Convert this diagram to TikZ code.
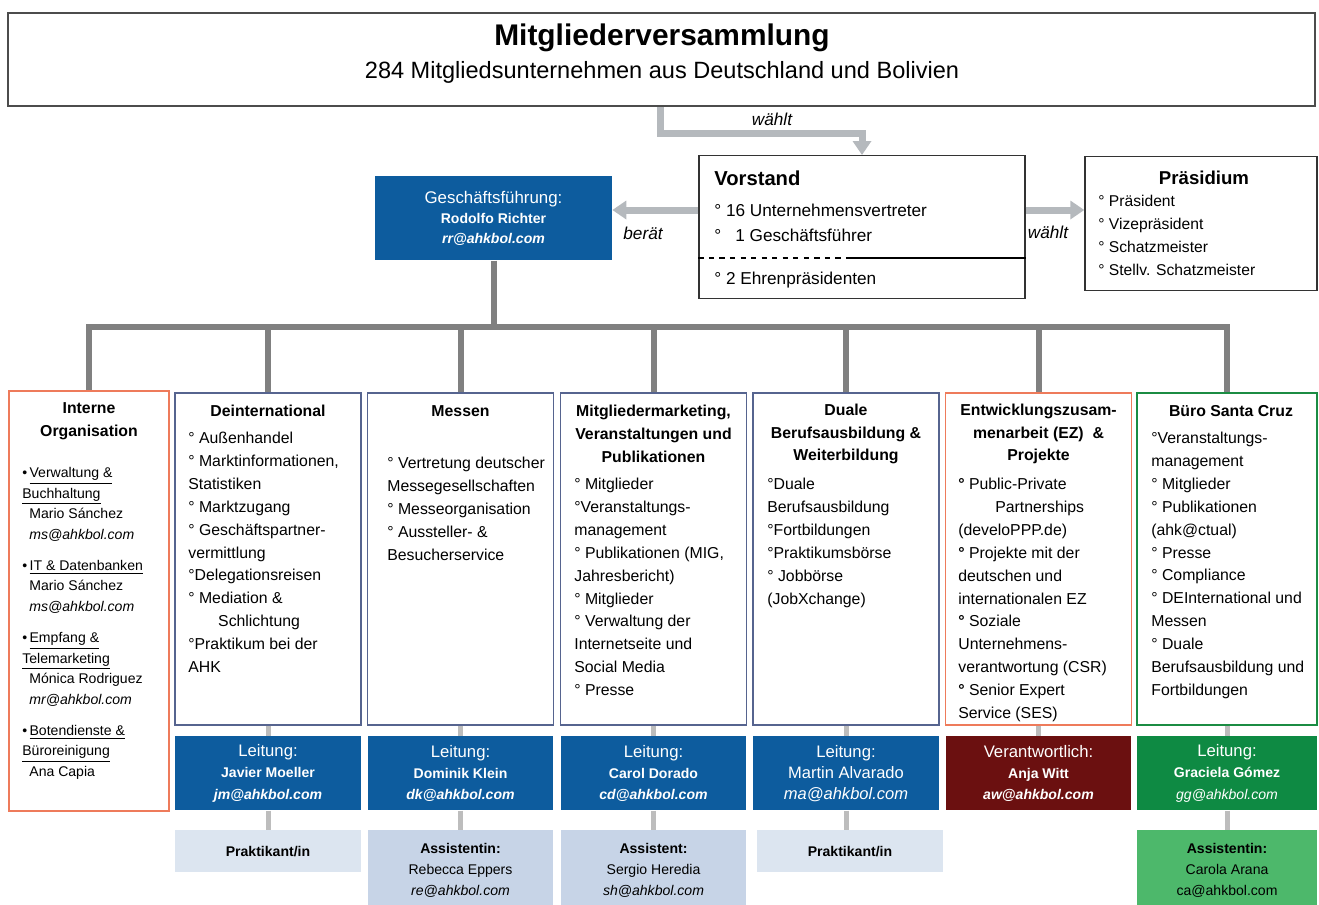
\documentclass[tikz,border=0pt]{standalone}
\usepackage{fontspec}
\setmainfont{Liberation Sans}
\usetikzlibrary{arrows.meta}

\definecolor{ahkblue}{HTML}{0D5C9E}
\definecolor{ahkred}{HTML}{6B1010}
\definecolor{ahkgreen}{HTML}{0E8A43}
\definecolor{ahklightgreen}{HTML}{4DB86B}
\definecolor{paleblue}{HTML}{DCE5F0}
\definecolor{softblue}{HTML}{C7D4E7}
\definecolor{slateline}{HTML}{56648F}
\definecolor{coralline}{HTML}{EE7B5B}
\definecolor{greenline}{HTML}{1B8C43}
\definecolor{arrowgray}{HTML}{B5B9BD}
\definecolor{busgray}{HTML}{808080}
\definecolor{linkgray}{HTML}{BDBDBD}

\begin{document}
\begin{tikzpicture}[x=0.02cm, y=-0.02cm,
    every node/.style={inner sep=0pt, font=\fontsize{9}{13}\selectfont},
    dept/.style={draw=slateline, line width=0.9pt, minimum width=3.72cm, minimum height=6.64cm, anchor=north},
    lead/.style={fill=ahkblue, text=white, minimum width=3.72cm, minimum height=1.48cm, anchor=north, align=center, font=\fontsize{8}{12}\selectfont},
    trainee/.style={fill=paleblue, minimum width=3.72cm, minimum height=0.84cm, anchor=north, font=\fontsize{8}{12}\selectfont\bfseries},
    helper/.style={fill=softblue, minimum width=3.72cm, minimum height=1.6cm, anchor=north, align=center, font=\fontsize{8}{12}\selectfont},
    items/.style={anchor=north west, align=left},
    heading/.style={font=\fontsize{9}{13}\selectfont\bfseries, align=center},
    verb/.style={font=\fontsize{9.8}{12}\selectfont\itshape},
    garrow/.style={arrowgray, line width=0.14cm, -{Triangle[length=0.28cm, width=0.36cm]}},
    bus/.style={busgray, line width=0.12cm},
    link/.style={linkgray, line width=0.1cm}
  ]
  \useasboundingbox (0,0) rectangle (1319,904);

  % Mitgliederversammlung
  \node[draw=black!70, line width=1.4pt, minimum width=26.14cm, minimum height=1.86cm, anchor=north] (mv) at (661.5,12) {};
  \node[font=\fontsize{17}{20}\selectfont\bfseries] (mvtitle) at (662,38) {Mitgliederversammlung};
  \node[font=\fontsize{13.4}{16}\selectfont] (mvsub) at (662,72) {284 Mitgliedsunternehmen aus Deutschland und Bolivien};

  % Vorstand
  \node[draw=black!80, line width=0.8pt, minimum width=6.52cm, minimum height=2.86cm, anchor=north] (vs) at (862,155) {};
  \node[anchor=west, font=\fontsize{11.5}{14}\selectfont\bfseries] (vstitle) at (714,178) {Vorstand};
  \node[items, font=\fontsize{9.8}{14.2}\selectfont] (vsitems) at (714,204) {%
    ° 16 Unternehmensvertreter\\
    °\hspace*{8pt}1 Geschäftsführer};
  \node[anchor=west, font=\fontsize{9.8}{14}\selectfont] (vshonor) at (714,280) {° 2 Ehrenpräsidenten};
  \draw[dashed, line width=0.8pt] (vs.west |- 0,258) -- (860,258);
  \draw[line width=0.8pt] (850,258) -- (vs.east |- 0,258);

  % Praesidium
  \node[draw=black!80, line width=0.8pt, minimum width=4.64cm, minimum height=2.68cm, anchor=north] (pr) at (1201,156) {};
  \node[font=\fontsize{10.6}{13}\selectfont\bfseries] (prtitle) at (1204,178) {Präsidium};
  \node[items, font=\fontsize{8.9}{13}\selectfont] (pritems) at (1098,195) {%
    ° Präsident\\
    ° Vizepräsident\\
    ° Schatzmeister\\
    ° Stellv. Schatzmeister};

  % Geschaeftsfuehrung
  \node[fill=ahkblue, text=white, minimum width=4.74cm, minimum height=1.68cm, anchor=north, align=center, font=\fontsize{8}{11.4}\selectfont] (gf) at (493.5,176) {%
    {\fontsize{9.6}{11.4}\selectfont Geschäftsführung:}\\
    \textbf{Rodolfo Richter}\\
    \textbf{\textit{rr@ahkbol.com}}};

  % arrows between the boards
  \draw[garrow] (mv.south -| 660,0) -- ++(0,26) -| (vs.north);
  \node[verb] at (772,119) {wählt};
  \draw[garrow] (vs.west |- 0,210) -- (gf.east |- 0,210);
  \node[verb] at (643,233) {berät};
  \draw[garrow] (vs.east |- 0,210) -- (pr.west |- 0,210);
  \node[verb] at (1048,232) {wählt};

  % departments
  \node[dept, draw=coralline, minimum width=3.2cm, minimum height=8.4cm] (c1) at (89,390) {};
  \node[dept] (c2) at (268,392) {};
  \node[dept] (c3) at (460.5,392) {};
  \node[dept] (c4) at (653.5,392) {};
  \node[dept] (c5) at (846,392) {};
  \node[dept, draw=coralline] (c6) at (1038.5,392) {};
  \node[dept, draw=greenline, minimum width=3.6cm] (c7) at (1227,392) {};

  % bus from the Geschaeftsfuehrung
  \coordinate (busy) at (0,327);
  \draw[bus] (gf.south) -- (gf.south |- busy);
  \draw[bus] (c1.north) |- (c7.north |- busy) -- (c7.north);
  \foreach \n in {2,...,6}
    \draw[bus] (c\n.north) -- (c\n.north |- busy);

  % Interne Organisation
  \node[heading] (h1) at (89,421) {Interne\\Organisation};
  \node[items, font=\fontsize{8}{11.7}\selectfont] (t1) at (22,467) {%
    •\,\underline{Verwaltung \&}\\
    \underline{Buchhaltung}\\
    \hspace*{4pt}Mario Sánchez\\
    \hspace*{4pt}\textit{ms@ahkbol.com}\\[6pt]
    •\,\underline{IT \& Datenbanken}\\
    \hspace*{4pt}Mario Sánchez\\
    \hspace*{4pt}\textit{ms@ahkbol.com}\\[6pt]
    •\,\underline{Empfang \&}\\
    \underline{Telemarketing}\\
    \hspace*{4pt}Mónica Rodriguez\\
    \hspace*{4pt}\textit{mr@ahkbol.com}\\[6pt]
    •\,\underline{Botendienste \&}\\
    \underline{Büroreinigung}\\
    \hspace*{4pt}Ana Capia};

  % Deinternational
  \node[heading] (h2) at (268,411) {Deinternational};
  \node[items] (t2) at (188,432) {%
    ° Außenhandel\\
    ° Marktinformationen,\\
    Statistiken\\
    ° Marktzugang\\
    ° Geschäftspartner-\\
    vermittlung\\
    °Delegationsreisen\\
    ° Mediation \&\\
    \hspace*{17pt}Schlichtung\\
    °Praktikum bei der\\
    AHK};

  % Messen
  \node[heading] (h3) at (460.5,411) {Messen};
  \node[items] (t3) at (387,457) {%
    ° Vertretung deutscher\\
    Messegesellschaften\\
    ° Messeorganisation\\
    ° Aussteller- \&\\
    Besucherservice};

  % Mitgliedermarketing
  \node[heading] (h4) at (653.5,434) {Mitgliedermarketing,\\Veranstaltungen und\\Publikationen};
  \node[items] (t4) at (574,478) {%
    ° Mitglieder\\
    °Veranstaltungs-\\
    management\\
    ° Publikationen (MIG,\\
    Jahresbericht)\\
    ° Mitglieder\\
    ° Verwaltung der\\
    Internetseite und\\
    Social Media\\
    ° Presse};

  % Duale Berufsausbildung
  \node[heading] (h5) at (846,434) {Duale\\Berufsausbildung \&\\Weiterbildung};
  \node[items] (t5) at (767,478) {%
    °Duale\\
    Berufsausbildung\\
    °Fortbildungen\\
    °Praktikumsbörse\\
    ° Jobbörse\\
    (JobXchange)};

  % Entwicklungszusammenarbeit
  \node[heading] (h6) at (1038.5,434) {Entwicklungszusam-\\menarbeit (EZ)\ \ \&\\Projekte};
  \node[items] (t6) at (958,478) {%
    \textbf{°} Public-Private\\
    \hspace*{21pt}Partnerships\\
    (develoPPP.de)\\
    \textbf{°} Projekte mit der\\
    deutschen und\\
    internationalen EZ\\
    \textbf{°} Soziale\\
    Unternehmens-\\
    verantwortung (CSR)\\
    \textbf{°} Senior Expert\\
    Service (SES)};

  % Buero Santa Cruz
  \node[heading] (h7) at (1231,411) {Büro Santa Cruz};
  \node[items] (t7) at (1151,432) {%
    °Veranstaltungs-\\
    management\\
    ° Mitglieder\\
    ° Publikationen\\
    (ahk@ctual)\\
    ° Presse\\
    ° Compliance\\
    ° DEInternational und\\
    Messen\\
    ° Duale\\
    Berufsausbildung und\\
    Fortbildungen};

  % Leitung
  \node[lead] (l2) at (268,736) {{\fontsize{9.5}{12}\selectfont Leitung:}\\ \textbf{Javier Moeller}\\ \textbf{\textit{jm@ahkbol.com}}};
  \node[lead] (l3) at (460.5,736) {{\fontsize{9.5}{12}\selectfont Leitung:}\\ \textbf{Dominik Klein}\\ \textbf{\textit{dk@ahkbol.com}}};
  \node[lead] (l4) at (653.5,736) {{\fontsize{9.5}{12}\selectfont Leitung:}\\ \textbf{Carol Dorado}\\ \textbf{\textit{cd@ahkbol.com}}};
  \node[lead, font=\fontsize{9.4}{12}\selectfont] (l5) at (846,736) {{\fontsize{9.5}{12}\selectfont Leitung:}\\ Martin Alvarado\\ \textit{ma@ahkbol.com}};
  \node[lead, fill=ahkred] (l6) at (1038.5,736) {{\fontsize{9.5}{12}\selectfont Verantwortlich:}\\ \textbf{Anja Witt}\\ \textbf{\textit{aw@ahkbol.com}}};
  \node[lead, fill=ahkgreen, minimum width=3.6cm] (l7) at (1227,736) {{\fontsize{9.5}{12}\selectfont Leitung:}\\ \textbf{Graciela Gómez}\\ \textit{gg@ahkbol.com}};

  % Praktikanten und Assistenz
  \node[trainee] (p2) at (268,830) {Praktikant/in};
  \node[helper] (a3) at (460.5,830) {\textbf{Assistentin:}\\ Rebecca Eppers\\ \textit{re@ahkbol.com}};
  \node[helper] (a4) at (653.5,830) {\textbf{Assistent:}\\ Sergio Heredia\\ \textit{sh@ahkbol.com}};
  \node[trainee] (p5) at (850,830) {Praktikant/in};
  \node[helper, fill=ahklightgreen, minimum width=3.6cm] (a7) at (1227,830) {\textbf{Assistentin:}\\ Carola Arana\\ ca@ahkbol.com};

  % links
  \foreach \n in {2,...,7}
    \draw[link] (c\n.south) -- (l\n.north);
  \foreach \a/\b in {l2/p2, l3/a3, l4/a4, l5/p5, l7/a7}
    \draw[link] (\a.south) -- (\a.south |- \b.north);
\end{tikzpicture}
\end{document}
